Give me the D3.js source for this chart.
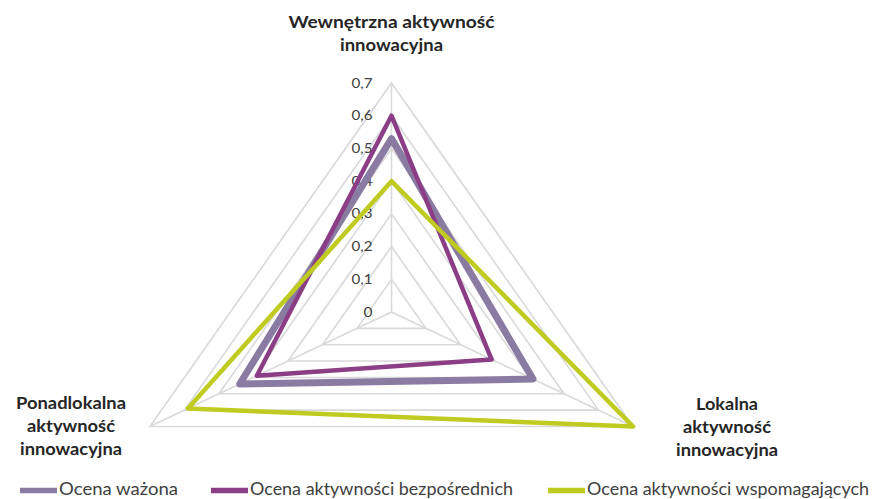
<!DOCTYPE html>
<html lang="pl">
<head>
<meta charset="utf-8" />
<title>Radar</title>
<script src="https://d3js.org/d3.v7.min.js"></script>
<style>
  body { margin: 0; background: #fff; }
  text { font-family: Lato, "Open Sans", sans-serif; }
</style>
</head>
<body>
<script>
// dane
var categories = ["Wewnętrzna aktywność innowacyjna", "Lokalna aktywność innowacyjna", "Ponadlokalna aktywność innowacyjna"];
var seriesNames = ["Ocena ważona", "Ocena aktywności bezpośrednich", "Ocena aktywności wspomagających"];
var ocenaWazona = [0.53, 0.41, 0.44];
var ocenaBezposrednich = [0.60, 0.29, 0.39];
var ocenaWspomagajacych = [0.40, 0.70, 0.59];
var tickLabels = ["0", "0,1", "0,2", "0,3", "0,4", "0,5", "0,6", "0,7"];
var tickValues = [0, 0.1, 0.2, 0.3, 0.4, 0.5, 0.6, 0.7];

var width = 874, height = 499;
var cx = 391.5, cy = 312;
var sx = 1.218; // wykres w oryginale jest rozciagniety w poziomie
var colors = ["#8a7ba2", "#8b3e86", "#bfcb20"];
var widths = [7, 4.5, 4.5];

var svg = d3.select("body").append("svg")
  .attr("width", width)
  .attr("height", height);

var r = d3.scaleLinear().domain([0, 0.7]).range([0, 229]);
var angle = d3.scaleLinear().domain([0, categories.length]).range([0, 2 * Math.PI]);

function pt(i, v) {
  var a = angle(i);
  return [cx + sx * r(v) * Math.sin(a), cy - r(v) * Math.cos(a)];
}

var line = d3.line().curve(d3.curveLinearClosed);

// siatka
var grid = svg.append("g");
tickValues.slice(1).forEach(function (t) {
  grid.append("path")
    .attr("d", line(categories.map(function (c, i) { return pt(i, t); })))
    .attr("fill", "none")
    .attr("stroke", "#d9d9d9")
    .attr("stroke-width", 1.6);
});
categories.forEach(function (c, i) {
  var p = pt(i, 0.7);
  grid.append("line")
    .attr("x1", cx).attr("y1", cy)
    .attr("x2", p[0]).attr("y2", p[1])
    .attr("stroke", "#d9d9d9")
    .attr("stroke-width", 1.6);
});

// etykiety osi wartosci
svg.append("g").selectAll("text")
  .data(tickValues)
  .enter().append("text")
  .attr("x", cx - 19)
  .attr("y", function (d) { return cy - r(d); })
  .attr("dy", "0.35em")
  .attr("text-anchor", "end")
  .attr("font-size", 13)
  .attr("fill", "#404040")
  .attr("textLength", function (d, i) { return i == 0 ? 9 : 21; })
  .attr("lengthAdjust", "spacingAndGlyphs")
  .text(function (d, i) { return tickLabels[i]; });

// serie
var allSeries = [ocenaWazona, ocenaBezposrednich, ocenaWspomagajacych];
allSeries.forEach(function (s, k) {
  svg.append("path")
    .attr("d", line(s.map(function (v, i) { return pt(i, v); })))
    .attr("fill", "none")
    .attr("stroke", colors[k])
    .attr("stroke-width", widths[k])
    .attr("stroke-linejoin", "round");
});

// etykiety kategorii
var catLabels = [
  { x: 391.5, y: 28, lines: ["Wewnętrzna aktywność", "innowacyjna"], lens: [206, 103] },
  { x: 727, y: 410, lines: ["Lokalna", "aktywność", "innowacyjna"], lens: [62, 88, 102] },
  { x: 71, y: 409, lines: ["Ponadlokalna", "aktywność", "innowacyjna"], lens: [110, 88, 102] }
];
catLabels.forEach(function (l) {
  var t = svg.append("text")
    .attr("text-anchor", "middle")
    .attr("font-size", 17)
    .attr("font-weight", "bold")
    .attr("fill", "#262626");
  l.lines.forEach(function (s, j) {
    t.append("tspan")
      .attr("x", l.x)
      .attr("y", l.y + j * 23)
      .attr("textLength", l.lens[j])
      .attr("lengthAdjust", "spacingAndGlyphs")
      .text(s);
  });
});

// legenda
var legendX = [20, 211, 548];
var legendLen = [119, 263, 282];
var legend = svg.append("g");
seriesNames.forEach(function (n, k) {
  legend.append("line")
    .attr("x1", legendX[k]).attr("x2", legendX[k] + 37)
    .attr("y1", 490.5).attr("y2", 490.5)
    .attr("stroke", colors[k])
    .attr("stroke-width", 5.5);
  legend.append("text")
    .attr("x", legendX[k] + 39)
    .attr("y", 495)
    .attr("font-size", 16.5)
    .attr("fill", "#404040")
    .attr("textLength", legendLen[k])
    .attr("lengthAdjust", "spacingAndGlyphs")
    .text(n);
});
</script>
</body>
</html>
